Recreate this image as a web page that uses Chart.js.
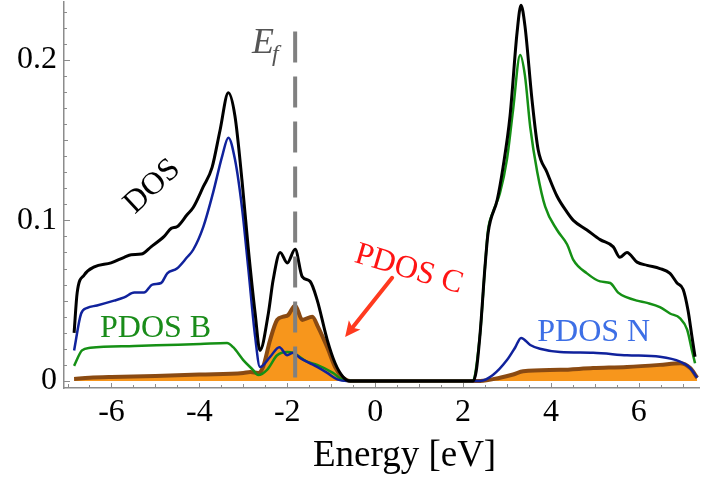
<!DOCTYPE html>
<html><head><meta charset="utf-8">
<script src="https://cdn.jsdelivr.net/npm/chart.js@4/dist/chart.umd.min.js"></script>
<style>html,body{margin:0;padding:0;background:#fff}#wrap{width:721px;height:482px}</style>
</head><body><div id="wrap"><canvas id="c" width="721" height="482"></canvas></div>
<script>
// ---- data (Energy in eV, DOS in states) ----
const fermiEnergy = -1.82;
const dosE = [-6.85,-6.78,-6.62,-6.39,-6.01,-5.71,-5.55,-5.32,-5.10,-4.80,-4.64,-4.51,-4.28,-4.14,-3.91,-3.71,-3.53,-3.34,-3.19,-3.03,-2.89,-2.73,-2.62,-2.43,-2.32,-2.16,-2.00,-1.82,-1.66,-1.48,-1.32,-1.09,-0.91,-0.73,-0.57,
  2.23,2.30,2.39,2.50,2.57,2.78,2.91,3.07,3.23,3.32,3.41,3.57,3.71,3.91,4.14,4.37,4.51,4.82,5.12,5.42,5.57,5.73,5.96,6.19,6.48,6.71,6.87,7.01,7.12,7.21,7.28];
const dosV = [0.030,0.055,0.066,0.071,0.0735,0.077,0.0786,0.079,0.0835,0.090,0.095,0.096,0.1035,0.108,0.121,0.133,0.156,0.1795,0.165,0.125,0.0835,0.042,0.019,0.042,0.063,0.080,0.0735,0.082,0.065,0.062,0.0505,0.0256,0.011,0.0025,0,
  0,0.006,0.030,0.071,0.092,0.113,0.133,0.165,0.217,0.234,0.221,0.175,0.144,0.130,0.115,0.105,0.100,0.094,0.088,0.0835,0.077,0.080,0.074,0.072,0.070,0.067,0.061,0.057,0.044,0.0275,0.015];

const pdosNE = [-6.85,-6.69,-6.55,-6.33,-5.94,-5.71,-5.48,-5.26,-5.07,-4.87,-4.73,-4.51,-4.28,-4.14,-3.91,-3.69,-3.48,-3.34,-3.19,-3.03,-2.89,-2.73,-2.62,-2.39,-2.18,-2.00,-1.87,-1.71,-1.48,-1.32,-1.09,-0.86,-0.64,
  2.39,2.68,3.00,3.19,3.32,3.53,3.75,4.21,4.96,5.73,6.48,6.94,7.17,7.33];
const pdosNV = [0.019,0.042,0.0455,0.047,0.050,0.052,0.055,0.055,0.060,0.061,0.067,0.070,0.077,0.0817,0.096,0.117,0.140,0.1515,0.138,0.108,0.071,0.0274,0.0087,0.015,0.021,0.016,0.0175,0.0143,0.011,0.0087,0.005,0.001,0,
  0,0.0037,0.013,0.021,0.0268,0.0224,0.020,0.018,0.0175,0.016,0.015,0.012,0.008,0.002];

const pdosBE = [-6.85,-6.67,-6.48,-5.48,-4.73,-3.98,-3.37,-3.23,-3.00,-2.78,-2.66,-2.46,-2.23,-2.00,-1.87,-1.55,-1.32,-0.96,-0.73,-0.50,
  2.21,2.39,2.50,2.57,2.68,2.84,3.00,3.14,3.30,3.41,3.53,3.69,3.87,4.14,4.37,4.51,4.82,5.12,5.35,5.53,5.73,5.96,6.19,6.48,6.71,6.94,7.10,7.21,7.28];
const pdosBV = [0.0094,0.019,0.0206,0.0218,0.0224,0.023,0.0237,0.021,0.013,0.0069,0.0037,0.0069,0.016,0.018,0.0175,0.012,0.010,0.005,0.0006,0,
  0,0.030,0.071,0.094,0.105,0.117,0.138,0.169,0.203,0.190,0.158,0.130,0.1085,0.094,0.085,0.0754,0.067,0.062,0.061,0.055,0.052,0.050,0.0486,0.046,0.042,0.039,0.032,0.019,0.011];

const pdosCE = [-6.85,-6.5,-6.0,-5.0,-4.0,-3.0,-2.84,-2.66,-2.55,-2.39,-2.23,-2.09,-1.98,-1.82,-1.66,-1.43,-1.30,-1.09,-0.91,-0.75,-0.57,
  2.39,2.84,3.14,3.37,4.21,4.96,5.73,6.48,6.94,7.17,7.33];
const pdosCV = [0.0012,0.002,0.0025,0.003,0.004,0.005,0.0056,0.005,0.0087,0.0255,0.038,0.040,0.041,0.047,0.038,0.040,0.0337,0.021,0.0087,0.0025,0,
  0,0.002,0.004,0.006,0.0069,0.008,0.0087,0.010,0.011,0.008,0.002];

const xTickStep = 2;
const yTickStep = 0.1;

// ---- styling ----
const SERIF = "'Liberation Serif','Times New Roman',serif";
const AXIS_GRAY = '#8c8c8c';
const pts = (xs, ys) => xs.map((x, i) => ({x, y: ys[i]}));

const innerTicks = {
  id: 'innerTicks',
  afterDraw(chart) {
    const {ctx, chartArea: a, scales: {x, y}} = chart;
    ctx.save();
    ctx.strokeStyle = AXIS_GRAY; ctx.lineWidth = 1;
    for (let k = -14; k <= 14; k++) {
      const v = k * 0.5, px = Math.round(x.getPixelForValue(v)) + 0.5;
      if (px < a.left + 2 || px > a.right) continue;
      const len = (k % 4 === 0) ? 5 : (k % 2 === 0 ? 4 : 3);
      ctx.beginPath(); ctx.moveTo(px, a.bottom); ctx.lineTo(px, a.bottom - len); ctx.stroke();
    }
    for (let k = 0; k <= 23; k++) {
      const py = Math.round(y.getPixelForValue(k * 0.01)) + 0.5;
      const len = (k % 10 === 0) ? 6 : (k % 5 === 0 ? 4 : 3);
      ctx.beginPath(); ctx.moveTo(a.left, py); ctx.lineTo(a.left + len, py); ctx.stroke();
    }
    ctx.restore();
  }
};

const labels = {
  id: 'labels',
  afterDraw(chart) {
    const {ctx, scales: {x, y}} = chart;
    const P = (ex, ey) => [x.getPixelForValue(ex), y.getPixelForValue(ey)];
    ctx.save();
    ctx.textBaseline = 'alphabetic';
    // DOS
    let [px, py] = P(-5.07, 0.121);
    ctx.save(); ctx.translate(px, py); ctx.rotate(-43 * Math.PI / 180);
    ctx.font = `32px ${SERIF}`; ctx.fillStyle = '#000'; ctx.textAlign = 'center'; ctx.textBaseline = 'middle';
    ctx.fillText('DOS', 0, 0); ctx.restore();
    // PDOS B
    [px, py] = P(-6.26, 0.0274);
    ctx.font = `32px ${SERIF}`; ctx.fillStyle = '#1a8c1a'; ctx.textAlign = 'left';
    ctx.fillText('PDOS B', px, py);
    // PDOS N
    [px, py] = P(3.69, 0.0249);
    ctx.fillStyle = '#3d6fe6';
    ctx.fillText('PDOS N', px, py);
    // PDOS C
    [px, py] = P(-0.50, 0.0742);
    ctx.save(); ctx.translate(px, py); ctx.rotate(16.5 * Math.PI / 180);
    ctx.fillStyle = '#ff1414'; ctx.fillText('PDOS C', 0, 0); ctx.restore();
    // arrow
    const [ax, ay] = P(0.387, 0.0642), [tx, ty] = P(-0.683, 0.0274);
    const ang = Math.atan2(ty - ay, tx - ax), hl = 17, hw = 0.45;
    ctx.strokeStyle = '#ff3a1f'; ctx.fillStyle = '#ff3a1f'; ctx.lineWidth = 4; ctx.lineCap = 'round';
    ctx.beginPath(); ctx.moveTo(ax, ay); ctx.lineTo(tx - 10 * Math.cos(ang), ty - 10 * Math.sin(ang)); ctx.stroke();
    ctx.beginPath(); ctx.moveTo(tx, ty);
    ctx.lineTo(tx - hl * Math.cos(ang - hw), ty - hl * Math.sin(ang - hw));
    ctx.lineTo(tx - hl * 0.7 * Math.cos(ang), ty - hl * 0.7 * Math.sin(ang));
    ctx.lineTo(tx - hl * Math.cos(ang + hw), ty - hl * Math.sin(ang + hw));
    ctx.closePath(); ctx.fill();
    // E_f
    [px, py] = P(-2.80, 0.2045);
    ctx.fillStyle = '#555'; ctx.font = `italic 36px ${SERIF}`;
    ctx.fillText('E', px, py);
    ctx.font = `italic 24px ${SERIF}`;
    ctx.fillText('f', px + 20, py + 8);
    // axis title
    const cx = x.getPixelForValue(0.67);
    ctx.fillStyle = '#000'; ctx.font = `37px ${SERIF}`; ctx.textAlign = 'center';
    ctx.fillText('Energy [eV]', cx, chart.height - 16);
    ctx.restore();
  }
};

const common = {pointRadius: 0, fill: false, cubicInterpolationMode: 'monotone'};
new Chart(document.getElementById('c'), {
  type: 'line',
  data: {
    datasets: [
      {label: 'E_f', data: [{x: fermiEnergy, y: 0.2176}, {x: fermiEnergy, y: -0.004}], borderColor: '#808080', borderWidth: 4, borderDash: [31, 14], pointRadius: 0, fill: false},
      {label: 'DOS', data: pts(dosE, dosV), borderColor: '#000', borderWidth: 3, ...common},
      {label: 'PDOS N', data: pts(pdosNE, pdosNV), borderColor: '#10229c', borderWidth: 2.5, ...common},
      {label: 'PDOS B', data: pts(pdosBE, pdosBV), borderColor: '#159015', borderWidth: 2.5, ...common},
      {label: 'PDOS C', data: pts(pdosCE, pdosCV), borderColor: '#8a4a12', borderWidth: 4, ...common, fill: 'origin', backgroundColor: '#f7961c'}
    ]
  },
  options: {
    responsive: false, animation: false,
    layout: {padding: {left: 0, right: 22, top: 2, bottom: 0}},
    plugins: {legend: {display: false}, tooltip: {enabled: false}},
    scales: {
      x: {
        type: 'linear', min: -7.08, max: 7.37,
        border: {display: true, color: AXIS_GRAY, width: 1.5},
        grid: {display: false, drawTicks: false},
        ticks: {stepSize: xTickStep, includeBounds: false, padding: 5, color: '#000', font: {family: SERIF, size: 32},
          callback: v => (v < 0 ? '-' + Math.abs(v) : String(v))},
        afterFit(s) { s.height = 94; s.paddingLeft = 0; s.paddingRight = 0; }
      },
      y: {
        type: 'linear', min: -0.0044, max: 0.236,
        border: {display: true, color: AXIS_GRAY, width: 1.5},
        grid: {display: false, drawTicks: false},
        ticks: {stepSize: yTickStep, includeBounds: false, padding: 7, color: '#000', font: {family: SERIF, size: 32},
          callback: v => (Math.abs(v) < 1e-9 ? '0' : v.toFixed(1))},
        afterFit(s) { s.width = 64; s.paddingTop = 0; s.paddingBottom = 0; }
      }
    }
  },
  plugins: [innerTicks, labels]
});
</script>
</body></html>
